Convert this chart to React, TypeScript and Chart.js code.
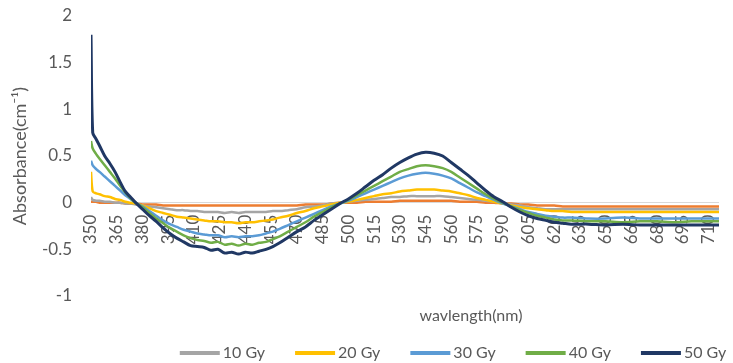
import React, { useEffect, useRef } from "react";
import { Chart, registerables } from "chart.js";

Chart.register(...registerables);

// Wavelength sample points (nm)
const WAVELENGTHS = [
  350, 351, 353, 355, 358, 361, 364, 367, 370, 373, 376,
  380, 384, 388, 392, 396,
  400, 404, 408, 412, 416, 420, 424, 428, 432, 436, 440, 444, 448, 452, 456,
  460, 465, 470, 475, 480, 485, 490, 495, 500, 505, 510, 515, 520, 525, 530, 535, 540, 545, 550,
  555, 560, 565, 570, 575, 580, 585, 590, 595, 600, 605, 610, 615, 620, 625, 630,
  640, 650, 660, 670, 680, 690, 700, 710, 720,
];

const ABS_0GY = [
  0.01, 0.01, 0.01, 0.0, 0.0, 0.0, 0.0, 0.0, -0.01, -0.01, -0.01,
  -0.02, -0.02, -0.02, -0.03, -0.03,
  -0.03, -0.03, -0.03, -0.03, -0.03, -0.03, -0.03, -0.03, -0.03, -0.03, -0.03, -0.03, -0.03, -0.03, -0.03,
  -0.03, -0.03, -0.03, -0.02, -0.02, -0.02, -0.01, 0.0, 0.0, 0.0, 0.01, 0.01, 0.01, 0.01, 0.02, 0.02, 0.02, 0.02, 0.02,
  0.02, 0.02, 0.01, 0.01, 0.01, 0.0, 0.0, -0.01, -0.01, -0.02, -0.02, -0.03, -0.03, -0.03, -0.04, -0.04,
  -0.04, -0.04, -0.04, -0.04, -0.04, -0.04, -0.04, -0.04, -0.04,
];

const ABS_10GY = [
  0.06, 0.03, 0.02, 0.02, 0.01, 0.01, 0.0, 0.0, -0.01, -0.01, -0.02,
  -0.03, -0.04, -0.05, -0.06, -0.07,
  -0.08, -0.08, -0.09, -0.09, -0.1, -0.1, -0.1, -0.11, -0.1, -0.11, -0.1, -0.1, -0.1, -0.1, -0.09,
  -0.09, -0.08, -0.07, -0.05, -0.04, -0.03, -0.01, 0.0, 0.01, 0.02, 0.03, 0.04, 0.05, 0.06, 0.06, 0.07, 0.07, 0.07, 0.07,
  0.07, 0.06, 0.05, 0.04, 0.03, 0.02, 0.01, 0.0, -0.02, -0.03, -0.05, -0.06, -0.07, -0.07, -0.07, -0.07,
  -0.07, -0.07, -0.07, -0.07, -0.07, -0.07, -0.07, -0.07, -0.07,
];

const ABS_20GY = [
  0.33, 0.12, 0.1, 0.09, 0.07, 0.06, 0.04, 0.03, 0.01, 0.0, -0.01,
  -0.03, -0.06, -0.09, -0.11, -0.13,
  -0.15, -0.16, -0.17, -0.18, -0.19, -0.2, -0.2, -0.21, -0.21, -0.22, -0.21, -0.21, -0.2, -0.19, -0.18,
  -0.16, -0.14, -0.11, -0.09, -0.06, -0.04, -0.02, 0.0, 0.01, 0.03, 0.05, 0.07, 0.09, 0.1, 0.12, 0.13, 0.14, 0.14, 0.14,
  0.13, 0.12, 0.1, 0.08, 0.05, 0.03, 0.01, -0.01, -0.03, -0.05, -0.06, -0.07, -0.08, -0.09, -0.09, -0.1,
  -0.1, -0.1, -0.1, -0.1, -0.1, -0.1, -0.1, -0.1, -0.1,
];

const ABS_30GY = [
  0.45, 0.4, 0.36, 0.33, 0.28, 0.23, 0.18, 0.13, 0.08, 0.04, 0.0,
  -0.04, -0.09, -0.14, -0.19, -0.23,
  -0.26, -0.29, -0.31, -0.33, -0.34, -0.35, -0.35, -0.37, -0.36, -0.37, -0.36, -0.36, -0.35, -0.33, -0.31,
  -0.28, -0.24, -0.2, -0.16, -0.12, -0.08, -0.04, -0.01, 0.02, 0.06, 0.1, 0.14, 0.18, 0.22, 0.26, 0.29, 0.31, 0.32, 0.31,
  0.29, 0.26, 0.21, 0.16, 0.11, 0.07, 0.03, -0.01, -0.04, -0.07, -0.1, -0.12, -0.14, -0.15, -0.16, -0.16,
  -0.17, -0.17, -0.16, -0.17, -0.17, -0.17, -0.17, -0.17, -0.17,
];

const ABS_40GY = [
  0.66, 0.58, 0.52, 0.47, 0.4, 0.33, 0.26, 0.18, 0.11, 0.05, 0.0,
  -0.05, -0.11, -0.17, -0.22, -0.27,
  -0.31, -0.35, -0.38, -0.4, -0.41, -0.43, -0.42, -0.45, -0.44, -0.46, -0.44, -0.45, -0.43, -0.42, -0.39,
  -0.36, -0.31, -0.26, -0.21, -0.15, -0.1, -0.05, -0.01, 0.03, 0.08, 0.13, 0.18, 0.23, 0.28, 0.33, 0.36, 0.39, 0.4, 0.39,
  0.37, 0.33, 0.27, 0.21, 0.15, 0.09, 0.04, 0.0, -0.04, -0.08, -0.11, -0.14, -0.16, -0.18, -0.19, -0.19,
  -0.2, -0.2, -0.21, -0.2, -0.2, -0.21, -0.2, -0.2, -0.2,
];

const ABS_50GY = [
  1.8, 0.75, 0.68, 0.61, 0.5, 0.42, 0.33, 0.22, 0.12, 0.06, 0.0,
  -0.07, -0.14, -0.2, -0.27, -0.33,
  -0.38, -0.42, -0.46, -0.47, -0.48, -0.51, -0.5, -0.54, -0.53, -0.55, -0.53, -0.54, -0.52, -0.5, -0.47,
  -0.43, -0.37, -0.31, -0.26, -0.19, -0.13, -0.07, -0.01, 0.04, 0.1, 0.17, 0.24, 0.3, 0.37, 0.43, 0.48, 0.52, 0.54, 0.53,
  0.5, 0.43, 0.36, 0.29, 0.21, 0.13, 0.06, 0.01, -0.05, -0.1, -0.14, -0.17, -0.19, -0.21, -0.22, -0.23,
  -0.23, -0.24, -0.23, -0.24, -0.24, -0.24, -0.24, -0.24, -0.24,
];

const SERIES_LABELS = ["0 Gy", "10 Gy", "20 Gy", "30 Gy", "40 Gy", "50 Gy"];
const SERIES_VALUES = [ABS_0GY, ABS_10GY, ABS_20GY, ABS_30GY, ABS_40GY, ABS_50GY];
const SERIES_COLORS = ["#ED7D31", "#A5A5A5", "#FFC000", "#5B9BD5", "#70AD47", "#203864"];
const LEGEND_LABELS = ["10 Gy", "20 Gy", "30 Gy", "40 Gy", "50 Gy"];

const X_TICKS = [
  350, 365, 380, 395, 410, 425, 440, 455, 470, 485, 500, 515, 530, 545, 560, 575, 590,
  605, 620, 635, 650, 665, 680, 695, 710,
];
const Y_MIN = -1;
const Y_MAX = 2;
const Y_STEP = 0.5;
const X_MIN = 350;
const X_MAX = 716;

const X_TITLE = "wavlength(nm)";
const Y_TITLE = "Absorbance(cm\u207B\u00B9)";

const FONT_FAMILY = "Lato, Carlito, 'Open Sans', sans-serif";
const TEXT_COLOR = "#595959";

const overlayPlugin = {
  id: "overlay",
  afterDraw(chart: any) {
    const ctx = chart.ctx as CanvasRenderingContext2D;
    ctx.save();
    ctx.fillStyle = TEXT_COLOR;
    ctx.font = `16px ${FONT_FAMILY}`;
    ctx.textAlign = "center";
    ctx.textBaseline = "middle";
    ctx.fillText(X_TITLE, 471, 316);

    // legend
    const lineLen = 40;
    const textGap = 3;
    const itemGap = 30;
    const entries = LEGEND_LABELS.map((label) => {
      const idx = SERIES_LABELS.indexOf(label);
      return { label, color: SERIES_COLORS[idx], w: ctx.measureText(label).width };
    });
    const total =
      entries.reduce((s, e) => s + lineLen + textGap + e.w, 0) + itemGap * (entries.length - 1);
    let x = 453 - total / 2;
    const y = 353;
    ctx.textAlign = "left";
    for (const e of entries) {
      ctx.strokeStyle = e.color;
      ctx.lineWidth = 4;
      ctx.lineCap = "butt";
      ctx.beginPath();
      ctx.moveTo(x, y);
      ctx.lineTo(x + lineLen, y);
      ctx.stroke();
      x += lineLen + textGap;
      ctx.fillText(e.label, x, y);
      x += e.w + itemGap;
    }
    ctx.restore();
  },
};

export default function App() {
  const canvasRef = useRef<HTMLCanvasElement | null>(null);

  useEffect(() => {
    if (!canvasRef.current) return;
    const datasets = SERIES_LABELS.map((label, i) => ({
      label,
      data: WAVELENGTHS.map((w, j) => ({ x: w, y: SERIES_VALUES[i][j] })),
      borderColor: SERIES_COLORS[i],
      backgroundColor: SERIES_COLORS[i],
      borderWidth: i === 5 ? 3 : 2.5,
      pointRadius: 0,
      tension: 0.3,
      order: SERIES_LABELS.length - 1 - i,
    }));
    const chart = new Chart(canvasRef.current, {
      type: "line",
      data: { datasets },
      options: {
        animation: false,
        responsive: false,
        layout: { padding: { top: 16, bottom: 67, left: 0, right: 0 } },
        plugins: { legend: { display: false }, tooltip: { enabled: false } },
        scales: {
          x: {
            type: "linear",
            min: X_MIN,
            max: X_MAX,
            position: { y: 0 } as any,
            grid: { display: false },
            border: { display: true, color: "#d9d9d9" },
            ticks: {
              autoSkip: false,
              minRotation: 90,
              maxRotation: 90,
              padding: 4,
              color: TEXT_COLOR,
              font: { family: FONT_FAMILY, size: 17 },
            },
            afterBuildTicks: (axis: any) => {
              axis.ticks = X_TICKS.map((v) => ({ value: v }));
            },
          },
          y: {
            min: Y_MIN,
            max: Y_MAX,
            grid: {
              display: true,
              drawOnChartArea: false,
              drawTicks: true,
              tickLength: 16,
              tickColor: "rgba(0,0,0,0)",
            },
            border: { display: false },
            ticks: {
              stepSize: Y_STEP,
              padding: 3,
              color: TEXT_COLOR,
              font: { family: FONT_FAMILY, size: 17 },
              callback: (v: any) => String(v),
            },
            title: {
              display: true,
              text: Y_TITLE,
              color: TEXT_COLOR,
              font: { family: FONT_FAMILY, size: 18 },
              padding: { top: 9, bottom: 0 },
            },
            afterFit: (scale: any) => {
              scale.width = 91;
            },
          },
        },
      },
      plugins: [overlayPlugin],
    });
    return () => chart.destroy();
  }, []);

  return (
    <div style={{ position: "fixed", left: 0, top: 0, width: 733, height: 363, background: "#fff" }}>
      <canvas ref={canvasRef} width={733} height={363} />
    </div>
  );
}
